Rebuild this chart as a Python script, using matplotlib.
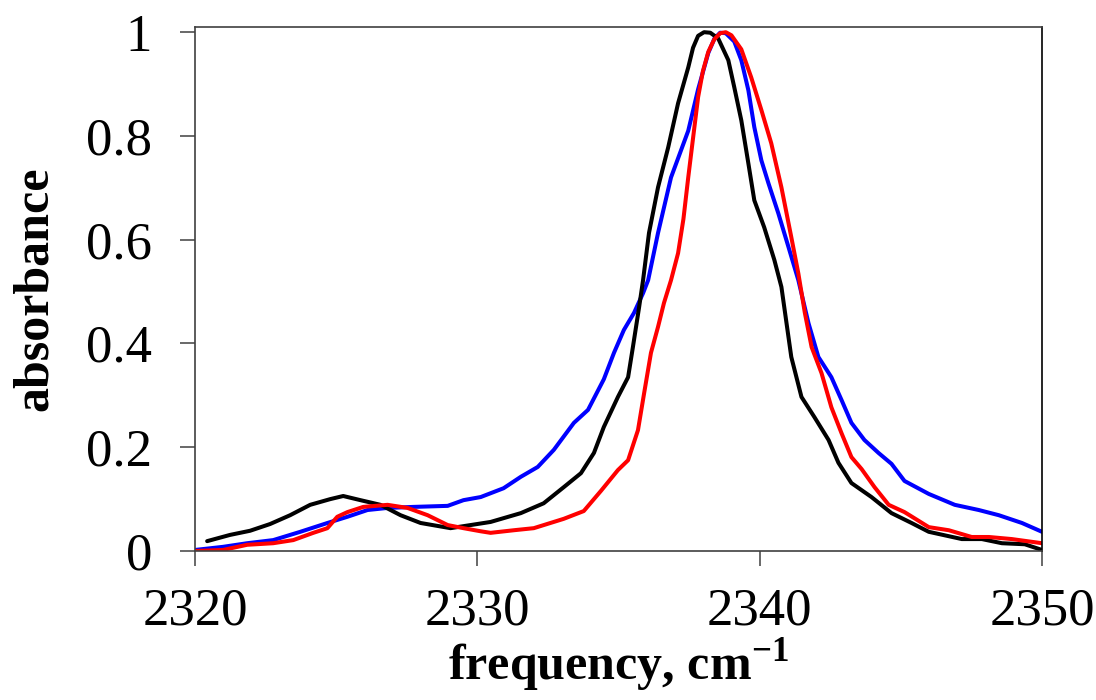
import matplotlib
matplotlib.use("Agg")
import matplotlib.pyplot as plt
import numpy as np

plt.rcParams['font.family'] = ['Liberation Serif', 'DejaVu Serif']
plt.rcParams['mathtext.fontset'] = 'custom'
plt.rcParams['mathtext.rm'] = 'Liberation Serif'
plt.rcParams['mathtext.bf'] = 'Liberation Serif:bold'

# black spectrum
black_x = [2320.43, 2321.24, 2321.95, 2322.66, 2323.37, 2324.08, 2324.79, 2325.25, 2325.86,
           2326.57, 2327.28, 2327.99, 2329.05, 2330.47, 2331.54, 2332.35, 2333.06, 2333.67,
           2334.13, 2334.48, 2334.98, 2335.34, 2335.51, 2335.73, 2335.87, 2336.08, 2336.40,
           2336.76, 2337.11, 2337.47, 2337.64, 2337.82, 2338.03, 2338.25, 2338.53, 2338.89,
           2339.10, 2339.35, 2339.60, 2339.81, 2340.16, 2340.52, 2340.77, 2341.12, 2341.48,
           2341.94, 2342.44, 2342.79, 2343.25, 2343.96, 2344.67, 2345.38, 2345.99, 2347.16,
           2347.87, 2348.58, 2349.39, 2350.0]
black_y = [0.019, 0.031, 0.039, 0.052, 0.069, 0.089, 0.100, 0.106, 0.098,
           0.089, 0.069, 0.054, 0.044, 0.056, 0.073, 0.092, 0.123, 0.150,
           0.189, 0.239, 0.297, 0.335, 0.393, 0.470, 0.522, 0.613, 0.701,
           0.778, 0.863, 0.932, 0.970, 0.993, 1.000, 0.999, 0.988, 0.946,
           0.894, 0.830, 0.747, 0.676, 0.624, 0.561, 0.509, 0.374, 0.297,
           0.258, 0.214, 0.170, 0.131, 0.104, 0.073, 0.054, 0.037, 0.023,
           0.023, 0.015, 0.013, 0.002]

# blue spectrum
blue_x = [2320.0, 2320.99, 2321.85, 2322.77, 2323.73, 2324.69, 2325.40, 2326.11, 2326.82,
          2327.74, 2328.95, 2329.51, 2330.12, 2330.93, 2331.54, 2332.14, 2332.71, 2333.42,
          2333.92, 2334.48, 2334.84, 2335.19, 2335.55, 2335.87, 2336.05, 2336.40, 2336.86,
          2337.47, 2337.82, 2338.18, 2338.40, 2338.60, 2338.80, 2339.10, 2339.35, 2339.60,
          2339.81, 2340.06, 2340.31, 2340.66, 2341.02, 2341.37, 2341.73, 2342.08, 2342.54,
          2342.90, 2343.25, 2343.71, 2344.21, 2344.67, 2345.13, 2345.99, 2346.91, 2347.76,
          2348.47, 2349.29, 2350.0]
blue_y = [0.002, 0.008, 0.015, 0.021, 0.037, 0.054, 0.066, 0.079, 0.083,
          0.085, 0.087, 0.098, 0.104, 0.121, 0.143, 0.162, 0.195, 0.247,
          0.272, 0.331, 0.382, 0.426, 0.459, 0.497, 0.522, 0.613, 0.720,
          0.810, 0.890, 0.960, 0.988, 0.999, 0.998, 0.982, 0.946, 0.888,
          0.817, 0.753, 0.709, 0.651, 0.586, 0.522, 0.439, 0.374, 0.335,
          0.291, 0.247, 0.214, 0.189, 0.168, 0.135, 0.110, 0.089, 0.079,
          0.069, 0.054, 0.037]

# red spectrum
red_x = [2320.0, 2320.99, 2321.85, 2322.77, 2323.48, 2324.19, 2324.69, 2325.04, 2325.40,
         2325.96, 2326.82, 2327.53, 2328.24, 2328.95, 2329.51, 2330.12, 2330.47, 2331.29,
         2332.00, 2333.06, 2333.77, 2334.38, 2334.98, 2335.34, 2335.69, 2335.91, 2336.15,
         2336.40, 2336.61, 2336.86, 2337.11, 2337.30, 2337.47, 2337.65, 2337.82, 2337.99,
         2338.18, 2338.39, 2338.60, 2338.80, 2339.00, 2339.35, 2339.70, 2340.06, 2340.41,
         2340.77, 2341.12, 2341.37, 2341.60, 2341.84, 2342.19, 2342.54, 2342.90, 2343.25,
         2343.61, 2344.07, 2344.57, 2345.13, 2345.99, 2346.70, 2347.51, 2348.12, 2348.93,
         2350.0]
red_y = [0.000, 0.002, 0.012, 0.015, 0.021, 0.035, 0.044, 0.066, 0.075,
         0.085, 0.089, 0.083, 0.069, 0.050, 0.044, 0.038, 0.035, 0.040,
         0.044, 0.062, 0.077, 0.116, 0.156, 0.175, 0.233, 0.305, 0.382,
         0.432, 0.478, 0.522, 0.574, 0.640, 0.720, 0.800, 0.875, 0.925,
         0.962, 0.986, 0.998, 1.000, 0.994, 0.967, 0.913, 0.850, 0.786,
         0.701, 0.605, 0.535, 0.459, 0.393, 0.343, 0.277, 0.227, 0.181,
         0.158, 0.123, 0.089, 0.075, 0.046, 0.040, 0.027, 0.027, 0.023,
         0.015]

x_ticks = [2320, 2330, 2340, 2350]
y_ticks = [0, 0.2, 0.4, 0.6, 0.8, 1]
y_tick_labels = ['0', '0.2', '0.4', '0.6', '0.8', '1']

fig = plt.figure(figsize=(10.96, 7.0), dpi=100)
ax = fig.add_axes([195 / 1096, 1 - 551 / 700, (1042 - 195) / 1096, (551 - 27) / 700])

lw = 2.9
ax.plot(blue_x, blue_y, color='#0000FF', lw=lw, solid_joinstyle='round', solid_capstyle='round')
ax.plot(black_x, black_y, color='black', lw=lw, solid_joinstyle='round', solid_capstyle='round')
ax.plot(red_x, red_y, color='#FF0000', lw=lw, solid_joinstyle='round', solid_capstyle='round')

ax.set_xlim(2320, 2350)
ax.set_ylim(0, 1.01)
ax.set_xticks(x_ticks)
ax.set_xticklabels([str(t) for t in x_ticks])
ax.set_yticks(y_ticks)
ax.set_yticklabels(y_tick_labels)

for s in ax.spines.values():
    s.set_color('#404040')
    s.set_linewidth(1.2)
ax.spines['right'].set_color('black')

ax.tick_params(axis='both', direction='out', length=11, width=1.1, color='#404040',
               labelsize=38, labelcolor='black')
ax.tick_params(axis='x', pad=15)
ax.tick_params(axis='y', pad=20)

ax.set_xlabel(r'frequency, cm$^{\mathbf{-1}}$', fontsize=36, fontweight='bold', labelpad=0)
ax.set_ylabel('absorbance', fontsize=36, fontweight='bold', labelpad=20)

fig.savefig('out.png', dpi=100, facecolor='white')
